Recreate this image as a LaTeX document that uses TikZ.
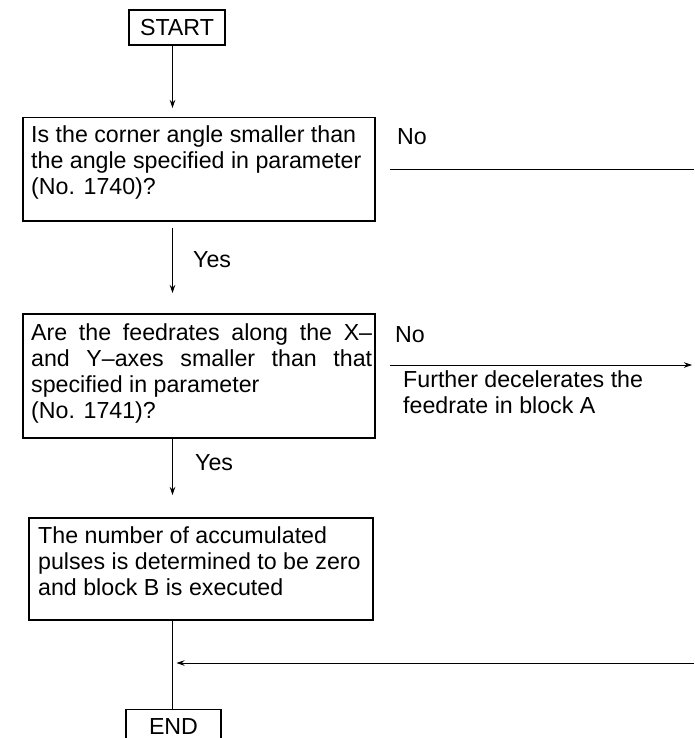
\documentclass[tikz,border=0pt]{standalone}
\usepackage{fontspec}
\setmainfont{Liberation Sans}
\usetikzlibrary{arrows.meta}
\tikzset{
  stepbox/.style={draw,line width=1.5pt,inner sep=0pt},
  steptext/.style={inner sep=0pt,align=left,anchor=north west},
  termbox/.style={draw,line width=1.5pt,minimum width=96pt,minimum height=35pt,inner sep=0pt},
  flow/.style={line width=0.9pt,->,>={Stealth[length=8pt,width=5.5pt]}},
  exitline/.style={line width=0.9pt},
  tag/.style={anchor=base west,inner sep=0pt}
}

\begin{document}
\begin{tikzpicture}[x=1pt,y=-1pt,every node/.style={font=\fontsize{23.2}{26.2}\selectfont}]
  \useasboundingbox (0,0) rectangle (694,738);
  \clip (0,0) rectangle (694,738);

  \coordinate (spine) at (172.5,0);
  \coordinate (exit1) at (694,169);
  \coordinate (exit2) at (692,365);
  \coordinate (back) at (694,663);

  \node[termbox] (start) at (177,27.5) {START};
  \node[stepbox,anchor=north west,minimum width=352pt,minimum height=103pt] (q1) at (22,117) {};
  \node[stepbox,anchor=north west,minimum width=352pt,minimum height=124pt] (q2) at (22,313) {};
  \node[stepbox,anchor=north west,minimum width=344pt,minimum height=102pt] (act) at (28,517) {};
  \node[termbox,minimum width=95pt] (stop) at (173.5,727) {END};

  \node[steptext] (q1text) at (31,125.3)
    {Is the corner angle smaller than\\the angle specified in parameter\\(No. 1740)?};
  \node[steptext] (q2text) at (31,323.3)
    {\makebox[341pt][s]{Are the feedrates along the X–}\\
     \makebox[341pt][s]{and Y–axes smaller than that}\\
     specified in parameter\\(No. 1741)?};
  \node[steptext] (acttext) at (38,526.3)
    {The number of accumulated\\pulses is determined to be zero\\and block B is executed};

  \node[tag] (no1) at (397,145) {No};
  \node[tag] (yes1) at (193,267) {Yes};
  \node[tag] (no2) at (395,342) {No};
  \node[steptext] (slow) at (403,370.3)
    {Further decelerates the\\feedrate in block A};
  \node[tag] (yes2) at (195,470) {Yes};

  \draw[flow,shorten >=9pt] (spine |- start.south) -- (spine |- q1.north);
  \draw[flow,shorten <=6pt,shorten >=20pt] (spine |- q1.south) -- (spine |- q2.north);
  \draw[flow,shorten >=22pt] (spine |- q2.south) -- (spine |- act.north);
  \draw[exitline] (spine |- act.south) -- (spine |- stop.north);

  \draw[exitline] ([xshift=14pt]q1.east |- exit1) -- (exit1);
  \draw[flow] ([xshift=14pt]q2.east |- exit2) -- (exit2);
  \draw[flow,shorten >=4pt] (back) -- (spine |- back);
\end{tikzpicture}
\end{document}
